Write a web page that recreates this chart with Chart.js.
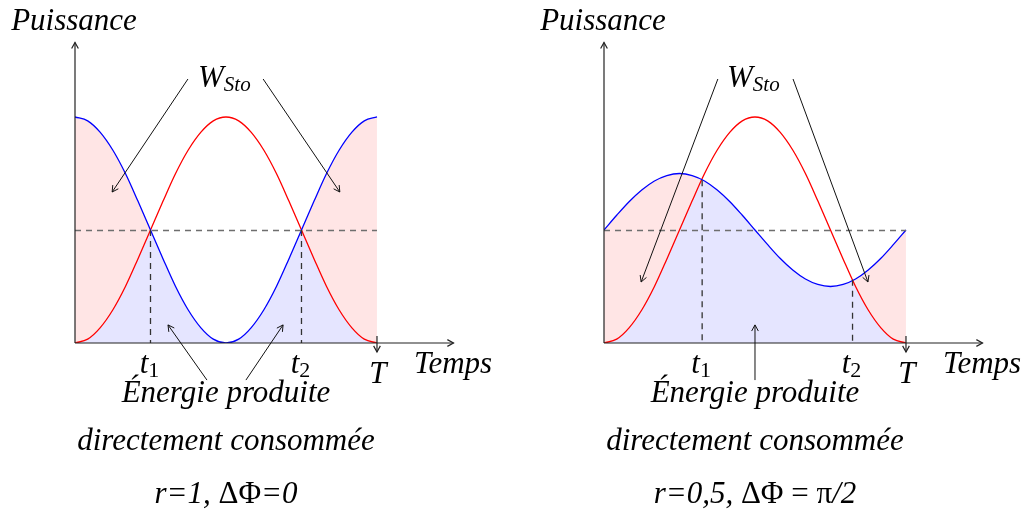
<!DOCTYPE html>
<html>
<head>
<meta charset="utf-8">
<script src="https://cdn.jsdelivr.net/npm/chart.js@4/dist/chart.umd.min.js"></script>
<style>
  html, body { margin: 0; padding: 0; background: #fff; }
  #wrap { position: relative; width: 1024px; height: 510px; }
  canvas { position: absolute; top: 0; }
</style>
</head>
<body>
<div id="wrap">
  <canvas id="panelLeft" width="512" height="510" style="left:0"></canvas>
  <canvas id="panelRight" width="512" height="510" style="left:512px"></canvas>
</div>
<script>
// time over one period T (0 -> 1)
const TIME = [0, 0.042, 0.083, 0.125, 0.167, 0.208, 0.25, 0.292, 0.333, 0.375, 0.417, 0.458,
  0.5, 0.542, 0.583, 0.625, 0.667, 0.708, 0.75, 0.792, 0.833, 0.875, 0.917, 0.958, 1];

// red curve (same in both panels)
const RED_CURVE = [0, 0.017, 0.067, 0.146, 0.25, 0.371, 0.5, 0.629, 0.75, 0.854, 0.933, 0.983,
  1, 0.983, 0.933, 0.854, 0.75, 0.629, 0.5, 0.371, 0.25, 0.146, 0.067, 0.017, 0];

// blue curve, r=1, dPhi=0
const BLUE_LEFT = [1, 0.983, 0.933, 0.854, 0.75, 0.629, 0.5, 0.371, 0.25, 0.146, 0.067, 0.017,
  0, 0.017, 0.067, 0.146, 0.25, 0.371, 0.5, 0.629, 0.75, 0.854, 0.933, 0.983, 1];

// blue curve, r=0,5, dPhi=pi/2
const BLUE_RIGHT = [0.5, 0.565, 0.625, 0.677, 0.717, 0.741, 0.75, 0.741, 0.717, 0.677, 0.625, 0.565,
  0.5, 0.435, 0.375, 0.323, 0.283, 0.259, 0.25, 0.259, 0.283, 0.323, 0.375, 0.435, 0.5];

// crossing times t1, t2 and the level where the curves cross
const CROSS_LEFT = [0.25, 0.75];
const CROSS_LEVEL_LEFT = [0.5, 0.5];
const CROSS_RIGHT = [0.325, 0.823];
const CROSS_LEVEL_RIGHT = [0.72, 0.28];
const CROSS_LABELS = ["1", "2"];

const MEAN_LEVEL = 0.5;
const PERIOD = 1;

const SERIF = '"Liberation Serif", "Times New Roman", serif';
const IT = "italic 31px " + SERIF;
const IT_SMALL = "italic 21px " + SERIF;
const RM = "31px " + SERIF;
const RM_SMALL = "22px " + SERIF;

const PINK = "rgba(255, 0, 0, 0.1)";
const LAVENDER = "rgba(0, 0, 255, 0.1)";

function points(values) {
  return TIME.map((t, i) => ({ x: t, y: values[i] }));
}

function arrow(ctx, x1, y1, x2, y2) {
  ctx.beginPath();
  ctx.moveTo(x1, y1);
  ctx.lineTo(x2, y2);
  ctx.stroke();
  const a = Math.atan2(y2 - y1, x2 - x1);
  const s = 7;
  ctx.beginPath();
  ctx.moveTo(x2 - s * Math.cos(a - 0.5), y2 - s * Math.sin(a - 0.5));
  ctx.lineTo(x2, y2);
  ctx.lineTo(x2 - s * Math.cos(a + 0.5), y2 - s * Math.sin(a + 0.5));
  ctx.stroke();
}

// draw a row of text pieces with different fonts
function drawRuns(ctx, runs, x, y, align) {
  let total = 0;
  runs.forEach(r => { ctx.font = r.font; total += ctx.measureText(r.text).width; });
  let cx = align === "center" ? x - total / 2 : x;
  ctx.textAlign = "left";
  runs.forEach(r => {
    ctx.font = r.font;
    ctx.fillText(r.text, cx, y + (r.dy || 0));
    cx += ctx.measureText(r.text).width;
  });
}

function sketchPlugin(panel) {
  return {
    id: "sketch",
    afterDatasetsDraw(chart) {
      const { ctx, chartArea } = chart;
      const x = chart.scales.x, y = chart.scales.y;
      const ox = x.getPixelForValue(0), oy = y.getPixelForValue(0);
      const pT = x.getPixelForValue(PERIOD);
      ctx.save();

      // mean level
      ctx.setLineDash([6, 5]);
      ctx.lineWidth = 1.3;
      ctx.strokeStyle = "#6e6e6e";
      ctx.beginPath();
      ctx.moveTo(ox, y.getPixelForValue(MEAN_LEVEL) + 0.5);
      ctx.lineTo(pT, y.getPixelForValue(MEAN_LEVEL) + 0.5);
      ctx.stroke();

      // t1, t2 drop lines
      ctx.strokeStyle = "#333";
      panel.cross.forEach((t, i) => {
        const px = x.getPixelForValue(t);
        ctx.beginPath();
        ctx.moveTo(px, y.getPixelForValue(panel.levels[i]));
        ctx.lineTo(px, oy);
        ctx.stroke();
      });
      ctx.setLineDash([]);

      // axes
      ctx.strokeStyle = "#222";
      ctx.lineWidth = 1.2;
      arrow(ctx, ox, oy, chartArea.right - 2, oy);
      arrow(ctx, ox, oy, ox, chartArea.top);
      arrow(ctx, pT, oy - 7, pT, oy + 9);

      // annotation arrows
      ctx.strokeStyle = "#111";
      ctx.lineWidth = 1;
      panel.arrows.forEach(a => arrow(ctx,
        x.getPixelForValue(a[0]), y.getPixelForValue(a[1]),
        x.getPixelForValue(a[2]), y.getPixelForValue(a[3])));

      // texts
      ctx.fillStyle = "#000";
      ctx.textBaseline = "alphabetic";
      drawRuns(ctx, [{ text: "Puissance", font: IT }], ox - 1, oy - 313, "center");
      drawRuns(ctx, [{ text: "W", font: IT }, { text: "Sto", font: IT_SMALL, dy: 4 }], ox + 123, oy - 256, "left");
      drawRuns(ctx, [{ text: "Temps", font: IT }], ox + 339, oy + 30, "left");
      panel.cross.forEach((t, i) => {
        drawRuns(ctx, [{ text: "t", font: IT }, { text: CROSS_LABELS[i], font: RM_SMALL, dy: 4 }],
          x.getPixelForValue(t) - 1, oy + 30, "center");
      });
      drawRuns(ctx, [{ text: "T", font: IT }], pT + 1, oy + 40, "center");

      const mid = x.getPixelForValue(0.5);
      drawRuns(ctx, [{ text: "Énergie produite", font: IT }], mid, oy + 59, "center");
      drawRuns(ctx, [{ text: "directement consommée", font: IT }], mid, oy + 107, "center");
      drawRuns(ctx, panel.caption, mid, oy + 160, "center");

      ctx.restore();
    }
  };
}

function buildPanel(canvasId, blue, panel, padding) {
  new Chart(document.getElementById(canvasId), {
    type: "line",
    data: {
      datasets: [
        { data: points(blue), borderColor: "#0000ff", borderWidth: 1.3, fill: false },
        { data: points(RED_CURVE), borderColor: "#ff0000", borderWidth: 1.3, fill: false },
        { data: points(blue), borderColor: "transparent", borderWidth: 0,
          fill: { target: 3, above: PINK, below: "#ffffff" } },
        { data: points(RED_CURVE), borderColor: "transparent", borderWidth: 0,
          backgroundColor: LAVENDER, fill: "origin" }
      ]
    },
    options: {
      responsive: false,
      animation: false,
      events: [],
      layout: { padding },
      elements: {
        point: { radius: 0 },
        line: { cubicInterpolationMode: "monotone" }
      },
      scales: {
        x: { type: "linear", min: 0, max: 1.26, display: false },
        y: { type: "linear", min: 0, max: 1.33, display: false }
      },
      plugins: {
        legend: { display: false },
        tooltip: { enabled: false }
      }
    },
    plugins: [sketchPlugin(panel)]
  });
}

buildPanel("panelLeft", BLUE_LEFT, {
  cross: CROSS_LEFT,
  levels: CROSS_LEVEL_LEFT,
  arrows: [
    [0.374, 1.168, 0.123, 0.668],
    [0.623, 1.168, 0.877, 0.668],
    [0.437, -0.164, 0.308, 0.08],
    [0.566, -0.164, 0.689, 0.08]
  ],
  caption: [
    { text: "r=1, ", font: IT },
    { text: "ΔΦ", font: RM },
    { text: "=0", font: IT }
  ]
}, { left: 75, right: 56.5, top: 42.4, bottom: 167 });

buildPanel("panelRight", BLUE_RIGHT, {
  cross: CROSS_RIGHT,
  levels: CROSS_LEVEL_RIGHT,
  arrows: [
    [0.377, 1.168, 0.123, 0.27],
    [0.626, 1.168, 0.874, 0.27],
    [0.5, -0.164, 0.5, 0.08]
  ],
  caption: [
    { text: "r=0,5, ", font: IT },
    { text: "ΔΦ = π", font: RM },
    { text: "/2", font: IT }
  ]
}, { left: 92, right: 39.5, top: 42.4, bottom: 167 });
</script>
</body>
</html>
